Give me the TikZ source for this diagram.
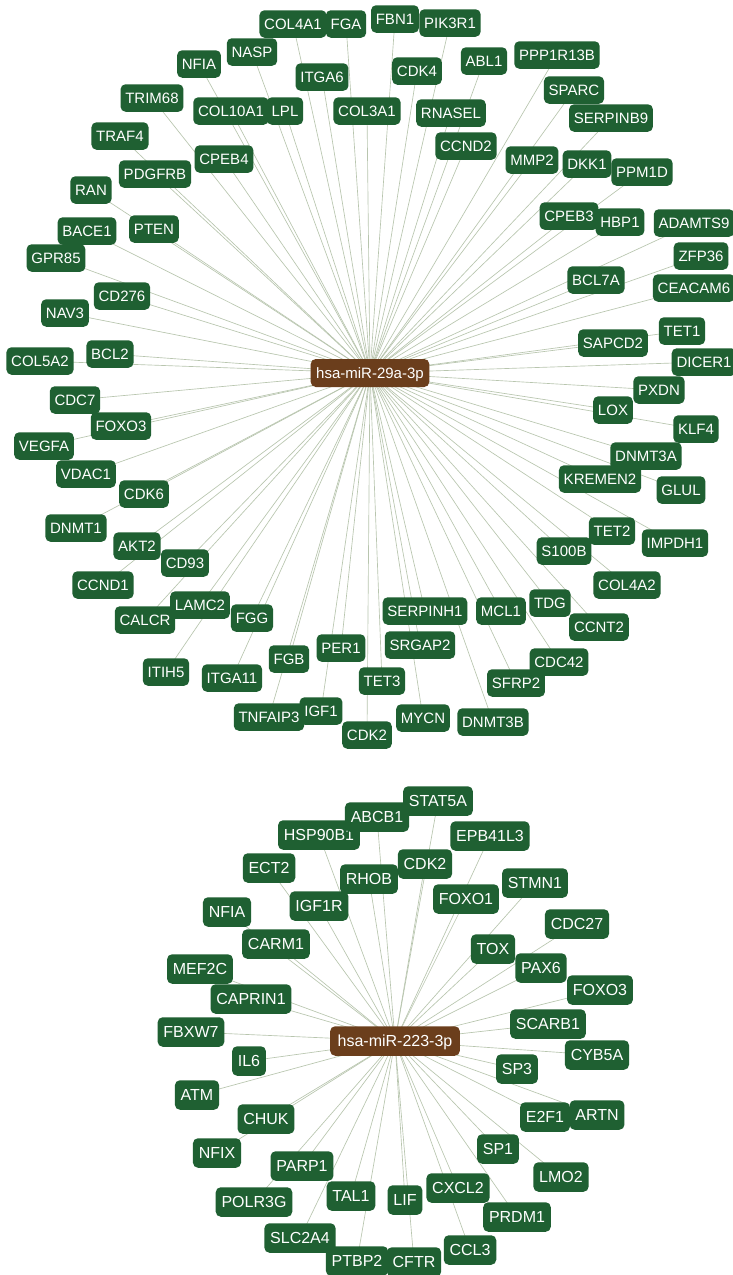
\documentclass[tikz,border=0pt]{standalone}
\usepackage{fontspec}
\setmainfont{Liberation Sans}
\usetikzlibrary{backgrounds}
\definecolor{gnode}{RGB}{31,96,50}
\definecolor{bnode}{RGB}{107,62,28}
\definecolor{edgec}{RGB}{184,197,174}
\tikzset{
  gA/.style={fill=gnode, text=white, rounded corners=5pt, inner xsep=4.8pt, inner ysep=0pt,
    minimum height=27.5pt, text height=11pt, text depth=0pt, font=\fontsize{15}{15}\selectfont},
  gB/.style={gA, inner xsep=5.8pt, minimum height=29.5pt, text height=11.5pt, font=\fontsize{16}{16}\selectfont},
  hubA/.style={gA, fill=bnode, inner xsep=5.5pt, minimum height=28pt},
  hubB/.style={gB, fill=bnode, inner xsep=7.5pt},
  edge/.style={draw=edgec, line width=0.65pt},
}
\begin{document}
\begin{tikzpicture}[x=1pt,y=-1pt]
\useasboundingbox (0,0) rectangle (732,1275);
% ---------- top network ----------
\foreach \n/\x/\y in {
COL4A1/293/24, FGA/346/24, FBN1/395/19, PIK3R1/450/23, NFIA/199/64, NASP/252/52,
ITGA6/322/77, CDK4/417/71, ABL1/484/61, PPP1R13B/557/55, TRIM68/152/98,
COL10A1/231/111, LPL/285/111, COL3A1/367/111, RNASEL/451/113, SPARC/574/90,
SERPINB9/611/118, TRAF4/120/136, PDGFRB/155/174, CPEB4/224/159, CCND2/466/146,
MMP2/532/160, DKK1/587/164, PPM1D/642/172, RAN/91/190, PTEN/154/229, BACE1/87/231,
CPEB3/569/216, HBP1/620/222, ADAMTS9/694/223, GPR85/56/258, ZFP36/701/256,
BCL7A/596/280, CEACAM6/694/288, CD276/122/296, NAV3/65/313, TET1/682/331,
SAPCD2/613/343, COL5A2/40/361, BCL2/110/354, DICER1/704/362, CDC7/75/400,
PXDN/659/390, FOXO3/121/426, LOX/613/410, VEGFA/44/446, KLF4/696/429,
DNMT3A/646/456, VDAC1/86/474, CDK6/144/494, KREMEN2/600/479, GLUL/681/490,
DNMT1/76/528, TET2/612/531, IMPDH1/675/543, AKT2/137/546, S100B/564/551,
CD93/185/563, CCND1/103/585, COL4A2/627/585, LAMC2/200/605, CALCR/145/620,
FGG/252/618, SERPINH1/425/611, MCL1/501/611, TDG/550/603, CCNT2/599/627,
SRGAP2/420/645, PER1/341/648, FGB/289/659, SFRP2/516/683, CDC42/559/662,
ITIH5/166/672, ITGA11/232/678, TET3/382/681, TNFAIP3/269/717, IGF1/321/711,
MYCN/423/718, DNMT3B/493/722, CDK2/367/735}
  \node[gA] (t-\n) at (\x,\y) {\n};
\node[hubA] (hubtop) at (370,373) {hsa-miR-29a-3p};
% ---------- bottom network ----------
\foreach \n/\x/\y in {
HSP90B1/319/835, ABCB1/377/817, STAT5A/438/801, EPB41L3/490/836, ECT2/269/868,
RHOB/369/879, CDK2/425/864, IGF1R/319/906, FOXO1/466/899, STMN1/535/883,
NFIA/227/912, CDC27/577/924, CARM1/276/944, TOX/493/949, MEF2C/200/969,
PAX6/541/968, FOXO3/600/990, CAPRIN1/251/999, SCARB1/548/1024, FBXW7/191/1032,
IL6/249/1061, CYB5A/597/1055, SP3/517/1069, ATM/197/1095, E2F1/545/1117,
ARTN/597/1115, CHUK/266/1119, NFIX/217/1153, SP1/498/1149, PARP1/302/1166,
LMO2/561/1177, POLR3G/254/1202, TAL1/351/1196, LIF/405/1200, CXCL2/458/1188,
PRDM1/517/1217, SLC2A4/300/1238, CCL3/470/1250, PTBP2/357/1261, CFTR/414/1262}
  \node[gB] (b-\n) at (\x,\y) {\n};
\node[hubB] (hubbot) at (395,1041) {hsa-miR-223-3p};
% ---------- connectors ----------
\begin{scope}[on background layer]
\fill[white] (0,0) rectangle (732,1275);
\foreach \n in {COL4A1, FGA, FBN1, PIK3R1, NFIA, NASP, ITGA6, CDK4, ABL1, PPP1R13B,
TRIM68, COL10A1, LPL, COL3A1, RNASEL, SPARC, SERPINB9, TRAF4, PDGFRB, CPEB4, CCND2,
MMP2, DKK1, PPM1D, RAN, PTEN, BACE1, CPEB3, HBP1, ADAMTS9, GPR85, ZFP36, BCL7A,
CEACAM6, CD276, NAV3, TET1, SAPCD2, COL5A2, BCL2, DICER1, CDC7, PXDN, FOXO3, LOX,
VEGFA, KLF4, DNMT3A, VDAC1, CDK6, KREMEN2, GLUL, DNMT1, TET2, IMPDH1, AKT2, S100B,
CD93, CCND1, COL4A2, LAMC2, CALCR, FGG, SERPINH1, MCL1, TDG, CCNT2, SRGAP2, PER1,
FGB, SFRP2, CDC42, ITIH5, ITGA11, TET3, TNFAIP3, IGF1, MYCN, DNMT3B, CDK2}
  \draw[edge] (hubtop.center) -- (t-\n.center);
\foreach \n in {HSP90B1, ABCB1, STAT5A, EPB41L3, ECT2, RHOB, CDK2, IGF1R, FOXO1, STMN1,
NFIA, CDC27, CARM1, TOX, MEF2C, PAX6, FOXO3, CAPRIN1, SCARB1, FBXW7, IL6, CYB5A, SP3,
ATM, E2F1, ARTN, CHUK, NFIX, SP1, PARP1, LMO2, POLR3G, TAL1, LIF, CXCL2, PRDM1,
SLC2A4, CCL3, PTBP2, CFTR}
  \draw[edge] (hubbot.center) -- (b-\n.center);
\end{scope}
\end{tikzpicture}
\end{document}
